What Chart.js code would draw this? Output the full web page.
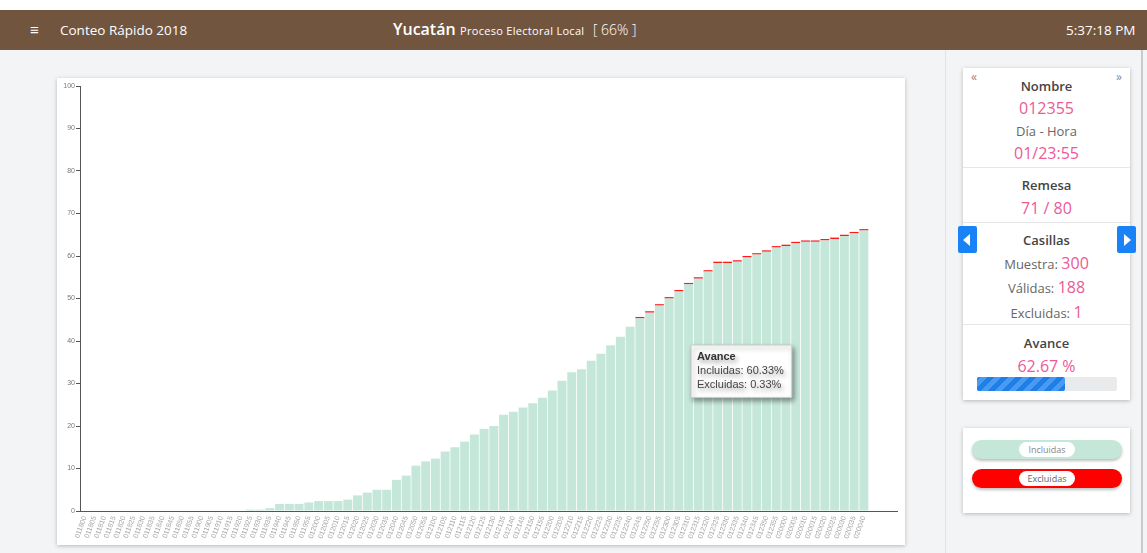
<!DOCTYPE html>
<html>
<head>
<meta charset="utf-8">
<script src="https://cdn.jsdelivr.net/npm/chart.js@4/dist/chart.umd.min.js"></script>
<style>
  body { margin: 0; width: 1147px; height: 553px; background: #f3f4f6; font-family: "Open Sans", sans-serif; overflow: hidden; position: relative; }
  .topstrip { position: absolute; left: 0; top: 0; width: 1147px; height: 10px; background: #fff; }
  .header { position: absolute; left: 0; top: 10px; width: 1147px; height: 40px; background: #72553f; color: #fff; }
  .header span { position: absolute; white-space: nowrap; }
  .sidebar { position: absolute; left: 945px; top: 50px; width: 195px; height: 503px; border-left: 1px solid #e2e3e6; border-right: 2px solid #c9cacc; }
  .card { position: absolute; background: #fff; box-shadow: 0 1px 4px rgba(0,0,0,0.25); }
  .row { position: absolute; left: 0; right: 0; height: 20px; line-height: 20px; text-align: center; white-space: nowrap; }
  .hd { font-weight: 600; font-size: 13px; color: #444; }
  .pk { color: #ec5a96; font-size: 16px; }
  .gr { color: #666; font-size: 13px; }
  .sep { position: absolute; left: 0; right: 0; height: 1px; background: #e6e6e6; }
  .nav { position: absolute; width: 19px; height: 27px; background: #1a82f7; border-radius: 2px; }
  .pill { position: absolute; left: 9px; width: 150px; height: 19px; border-radius: 10px; box-shadow: 0 2px 3px rgba(0,0,0,0.25); }
  .pill span { position: absolute; left: 47px; top: 2px; width: 56px; height: 15px; line-height: 15px; border-radius: 8px; background: #fff; font-size: 9px; text-align: center; color: #888; }
</style>
</head>
<body>
<div class="topstrip"></div>
<div class="header">
  <span style="left:30px; top:9px; font-size:15px;">&#8801;</span>
  <span style="left:60px; top:11px; font-size:13.5px;">Conteo Rápido 2018</span>
  <span style="left:393px; top:8px; font-size:16px; font-weight:600;">Yucatán</span>
  <span style="left:460px; top:13px; font-size:11px; letter-spacing:0.3px;">Proceso Electoral Local</span>
  <span style="left:593px; top:10px; font-size:14px; font-weight:300;">[ 66% ]</span>
  <span style="left:1066px; top:11px; font-size:13.5px;">5:37:18 PM</span>
</div>
<div class="sidebar"></div>

<div class="card" style="left:57px; top:78px; width:848px; height:467px;">
  <canvas id="chart" width="848" height="467" style="width:848px; height:467px;"></canvas>
</div>

<div class="card" style="left:963px; top:68px; width:167px; height:332px;">
  <div style="position:absolute; left:8px; top:0px; color:#8a8a8a; font-size:12px;">&laquo;</div>
  <div style="position:absolute; right:8px; top:0px; color:#8a8a8a; font-size:12px;">&raquo;</div>
  <div class="row hd" style="top:8px;">Nombre</div>
  <div class="row pk" style="top:30px;">012355</div>
  <div class="row gr" style="top:53px;">Día - Hora</div>
  <div class="row pk" style="top:75px;">01/23:55</div>
  <div class="sep" style="top:99px;"></div>
  <div class="row hd" style="top:107px;">Remesa</div>
  <div class="row pk" style="top:130px;">71 / 80</div>
  <div class="sep" style="top:154px;"></div>
  <div class="row hd" style="top:162px;">Casillas</div>
  <div class="row" style="top:185px;"><span class="gr">Muestra: </span><span class="pk">300</span></div>
  <div class="row" style="top:209px;"><span class="gr">Válidas: </span><span class="pk">188</span></div>
  <div class="row" style="top:234px;"><span class="gr">Excluidas: </span><span class="pk">1</span></div>
  <div class="sep" style="top:256px;"></div>
  <div class="row hd" style="top:265px;">Avance</div>
  <div class="row pk" style="top:288px;">62.67 %</div>
  <div style="position:absolute; left:14px; top:309px; width:140px; height:14px; background:#e9eaec; border-radius:2px;">
    <div style="width:62.67%; height:100%; border-radius:2px; background:repeating-linear-gradient(-45deg, #1f7fe6 0 5px, #4a9af0 5px 10px);"></div>
  </div>
</div>
<div class="nav" style="left:958px; top:226px;"><div style="position:absolute; left:5px; top:8px; width:0; height:0; border-top:6px solid transparent; border-bottom:6px solid transparent; border-right:7px solid #fff;"></div></div>
<div class="nav" style="left:1117px; top:226px;"><div style="position:absolute; left:7px; top:8px; width:0; height:0; border-top:6px solid transparent; border-bottom:6px solid transparent; border-left:7px solid #fff;"></div></div>

<div class="card" style="left:963px; top:428px; width:167px; height:85px;">
  <div class="pill" style="top:12px; background:#c5e7da;"><span>Incluidas</span></div>
  <div class="pill" style="top:41px; background:#ff0000;"><span style="color:#666;">Excluidas</span></div>
</div>

<script>
const labels = [
  '011800', '011805', '011810', '011815', '011820', '011825', '011830', '011835', '011840', '011845', '011850', '011855',
  '011900', '011905', '011910', '011915', '011920', '011925', '011930', '011935', '011940', '011945', '011950', '011955',
  '012000', '012005', '012010', '012015', '012020', '012025', '012030', '012035', '012040', '012045', '012050', '012055',
  '012100', '012105', '012110', '012115', '012120', '012125', '012130', '012135', '012140', '012145', '012150', '012155',
  '012200', '012205', '012210', '012215', '012220', '012225', '012230', '012235', '012240', '012245', '012250', '012255',
  '012300', '012305', '012310', '012315', '012320', '012325', '012330', '012335', '012340', '012345', '012350', '012355',
  '020000', '020005', '020010', '020015', '020020', '020025', '020030', '020035', '020040',
  '', '', ''
];

const incluidas = [
  0, 0, 0, 0, 0, 0, 0, 0, 0, 0, 0, 0, 0, 0, 0, 0, 0,
  0.33, 0.33, 0.67, 1.67, 1.67, 1.67, 2.0, 2.33, 2.33, 2.33, 2.67, 3.67, 4.33, 5.0, 5.0,
  7.33, 8.33, 10.67, 11.67, 12.33, 14.0, 15.0, 16.33, 18.0, 19.33, 20.0,
  22.67, 23.33, 24.33, 25.33, 26.67, 28.33, 30.67, 32.67, 33.33, 35.33, 37.0, 39.0, 41.0, 43.33,
  45.33, 46.67, 48.33, 50.0, 51.67, 53.33, 54.67, 56.33, 58.33, 58.33, 58.67, 59.67, 60.33,
  61.0, 62.0, 62.33, 63.0, 63.33, 63.33, 63.67, 64.0, 64.67, 65.33, 66.0
];

const excluidas = [
  0, 0, 0, 0, 0, 0, 0, 0, 0, 0, 0, 0, 0, 0, 0, 0, 0,
  0, 0, 0, 0, 0, 0, 0, 0, 0, 0, 0, 0, 0, 0, 0,
  0, 0, 0, 0, 0, 0, 0, 0, 0, 0, 0,
  0, 0, 0, 0, 0, 0, 0, 0, 0, 0, 0, 0, 0, 0,
  0.33, 0.33, 0.33, 0.33, 0.33, 0.33, 0.33, 0.33, 0.33, 0.33, 0.33, 0.33, 0.33,
  0.33, 0.33, 0.33, 0.33, 0.33, 0.33, 0.33, 0.33, 0.33, 0.33, 0.33
];

const yTicks = [0, 10, 20, 30, 40, 50, 60, 70, 80, 90, 100];
const hoverIndex = 69;

// tooltip box sits where the mouse left it in the screenshot
Chart.Tooltip.positioners.fijo = function () {
  const a = this.chart.chartArea;
  return { x: a.left + 612, y: a.top + 259 };
};

const tooltipShadow = {
  id: 'tooltipShadow',
  beforeTooltipDraw(chart) {
    const ctx = chart.ctx;
    ctx.save();
    ctx.shadowColor = 'rgba(0,0,0,0.4)';
    ctx.shadowBlur = 5;
    ctx.shadowOffsetX = 2;
    ctx.shadowOffsetY = 3;
  },
  afterTooltipDraw(chart) {
    chart.ctx.restore();
  }
};

const ctx = document.getElementById('chart').getContext('2d');
const chart = new Chart(ctx, {
  type: 'bar',
  data: {
    labels: labels,
    datasets: [
      { label: 'Incluidas', data: incluidas, backgroundColor: '#c5e7da', categoryPercentage: 1, barPercentage: 0.92 },
      { label: 'Excluidas', data: excluidas, backgroundColor: '#ff1a1a', categoryPercentage: 1, barPercentage: 0.92 }
    ]
  },
  plugins: [tooltipShadow],
  options: {
    animation: false,
    responsive: false,
    layout: { padding: { top: 8, right: 7, left: 0, bottom: 0 } },
    plugins: {
      legend: { display: false },
      tooltip: {
        mode: 'index',
        position: 'fijo',
        xAlign: 'left',
        yAlign: 'top',
        caretSize: 0,
        caretPadding: 0,
        cornerRadius: 1,
        backgroundColor: '#fff',
        borderColor: '#c8c8c8',
        borderWidth: 1,
        titleColor: '#333',
        bodyColor: '#444',
        titleFont: { family: 'Liberation Sans', size: 11, weight: 'bold' },
        bodyFont: { family: 'Liberation Sans', size: 11 },
        titleMarginBottom: 1,
        bodySpacing: 1,
        padding: { top: 5, left: 6, right: 8, bottom: 6 },
        displayColors: false,
        callbacks: {
          title: () => 'Avance',
          label: (c) => c.dataset.label + ': ' + c.parsed.y.toFixed(2) + '%'
        }
      }
    },
    scales: {
      x: {
        stacked: true,
        grid: { drawOnChartArea: false, drawTicks: false },
        border: { color: '#555', width: 1 },
        ticks: {
          autoSkip: false,
          minRotation: 70,
          maxRotation: 70,
          padding: 4,
          color: '#a8a8a8',
          font: { family: 'Liberation Sans', size: 7 }
        },
        afterFit: (scale) => { scale.height = 34; }
      },
      y: {
        stacked: true,
        min: 0,
        max: 100,
        grid: { drawOnChartArea: false, drawTicks: true, tickLength: 4, color: '#555' },
        border: { color: '#555', width: 1 },
        ticks: {
          stepSize: 10,
          padding: 1,
          color: '#777',
          font: { family: 'Liberation Sans', size: 7 },
          callback: (v) => yTicks.includes(v) ? v : ''
        },
        afterFit: (scale) => { scale.width = 23; }
      }
    }
  }
});

chart.tooltip.setActiveElements(
  [{ datasetIndex: 0, index: hoverIndex }, { datasetIndex: 1, index: hoverIndex }],
  { x: 0, y: 0 }
);
chart.update();
</script>
</body>
</html>
